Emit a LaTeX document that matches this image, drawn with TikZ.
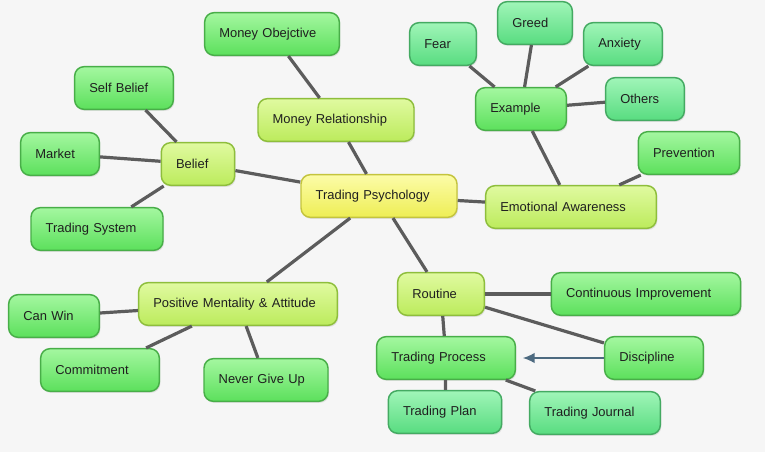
\documentclass[tikz,border=0pt]{standalone}
\usepackage{fontspec}
\setmainfont{Liberation Sans}
\usetikzlibrary{shadows,arrows.meta}

\definecolor{paper}{HTML}{F6F6F6}
\definecolor{edgegray}{HTML}{5C5C5C}
\definecolor{arrowblue}{HTML}{4D6A80}
\definecolor{coretop}{HTML}{FCFCA8}
\definecolor{corebot}{HTML}{EEEE55}
\definecolor{coreline}{HTML}{C4C43E}
\definecolor{midtop}{HTML}{E0FAA0}
\definecolor{midbot}{HTML}{BCEB5C}
\definecolor{midline}{HTML}{8EBE3C}
\definecolor{leaftop}{HTML}{A4F7A0}
\definecolor{leafbot}{HTML}{5CE05C}
\definecolor{leafline}{HTML}{48AE48}
\definecolor{minttop}{HTML}{A0F5B8}
\definecolor{mintbot}{HTML}{58DC80}
\definecolor{mintline}{HTML}{44AA62}

\begin{document}
\begin{tikzpicture}[x=0.75pt, y=-0.75pt,
    box/.style={draw, line width=1.1pt, rounded corners=7pt, minimum height=32pt,
      inner xsep=11pt, align=left, font=\fontsize{9.7}{11}\selectfont, text=black!88,
      drop shadow={opacity=0.18, shadow xshift=0.8pt, shadow yshift=-1.2pt}},
    core/.style={box, draw=coreline, top color=coretop, bottom color=corebot},
    mid/.style={box, draw=midline, top color=midtop, bottom color=midbot},
    leaf/.style={box, draw=leafline, top color=leaftop, bottom color=leafbot},
    mint/.style={box, draw=mintline, top color=minttop, bottom color=mintbot},
    link/.style={draw=edgegray, line width=2.4pt}]

    \fill[paper] (0,0) rectangle (765,452);
    \useasboundingbox (0,0) rectangle (765,452);

    % centre and main branches
    \node[core, text width=95pt] (psy) at (379,196) {Trading Psychology};
    \node[mid, text width=95pt] (money) at (336,120) {Money Relationship};
    \node[mid, text width=33pt] (belief) at (198,164) {Belief};
    \node[mid, text width=106pt] (emo) at (571,207) {Emotional Awareness};
    \node[mid, text width=43pt] (routine) at (441,294) {Routine};
    \node[mid, text width=127pt] (posit) at (238,304) {Positive Mentality \& Attitude};

    % leaves
    \node[leaf, text width=79pt] (moneyobj) at (272,34) {Money Obejctive};
    \node[leaf, text width=52pt] (self) at (124,88) {Self Belief};
    \node[leaf, text width=37pt] (market) at (60,154) {Market};
    \node[leaf, text width=77pt] (system) at (97,229) {Trading System};
    \node[mint, text width=28pt] (fear) at (443,44) {Fear};
    \node[mint, text width=34pt] (greed) at (535,23) {Greed};
    \node[mint, text width=37pt] (anx) at (623,44) {Anxiety};
    \node[leaf, text width=46pt] (example) at (521,109) {Example};
    \node[mint, text width=37pt] (others) at (645,99) {Others};
    \node[leaf, text width=54pt] (prev) at (689,153) {Prevention};
    \node[leaf, text width=120pt] (improve) at (646,294) {Continuous Improvement};
    \node[leaf, text width=46pt] (canwin) at (54,316) {Can Win};
    \node[leaf, text width=67pt] (commit) at (100,370) {Commitment};
    \node[leaf, text width=71pt] (never) at (266,380) {Never Give Up};
    \node[leaf, text width=82pt] (process) at (446,358) {Trading Process};
    \node[leaf, text width=52pt] (disc) at (654,358) {Discipline};
    \node[mint, text width=63pt] (plan) at (445,412) {Trading Plan};
    \node[mint, text width=76pt] (journal) at (595,413) {Trading Journal};

    % connectors
    \draw[link] (psy) -- (money);
    \draw[link] (money) -- (moneyobj);
    \draw[link] (psy) -- (belief);
    \draw[link] (belief) -- (self);
    \draw[link] (belief) -- (market);
    \draw[link] (belief) -- (system);
    \draw[link] (psy) -- (emo);
    \draw[link] (emo) -- (example);
    \draw[link] (emo) -- (prev);
    \draw[link] (example) -- (fear);
    \draw[link] (example) -- (greed);
    \draw[link] (example) -- (anx);
    \draw[link] (example) -- (others);
    \draw[link] (psy) -- (routine);
    \draw[link] (routine) -- (improve);
    \draw[link] (routine) -- (disc);
    \draw[link] (routine) -- (process);
    \draw[link] (process) -- (plan);
    \draw[link] (process) -- (journal);
    \draw[link] (psy) -- (posit);
    \draw[link] (posit) -- (canwin);
    \draw[link] (posit) -- (commit);
    \draw[link] (posit) -- (never);
    \draw[-{Latex[length=9pt, width=8pt]}, draw=arrowblue, line width=1.3pt, shorten >=5pt] (disc) -- (process);
\end{tikzpicture}
\end{document}
